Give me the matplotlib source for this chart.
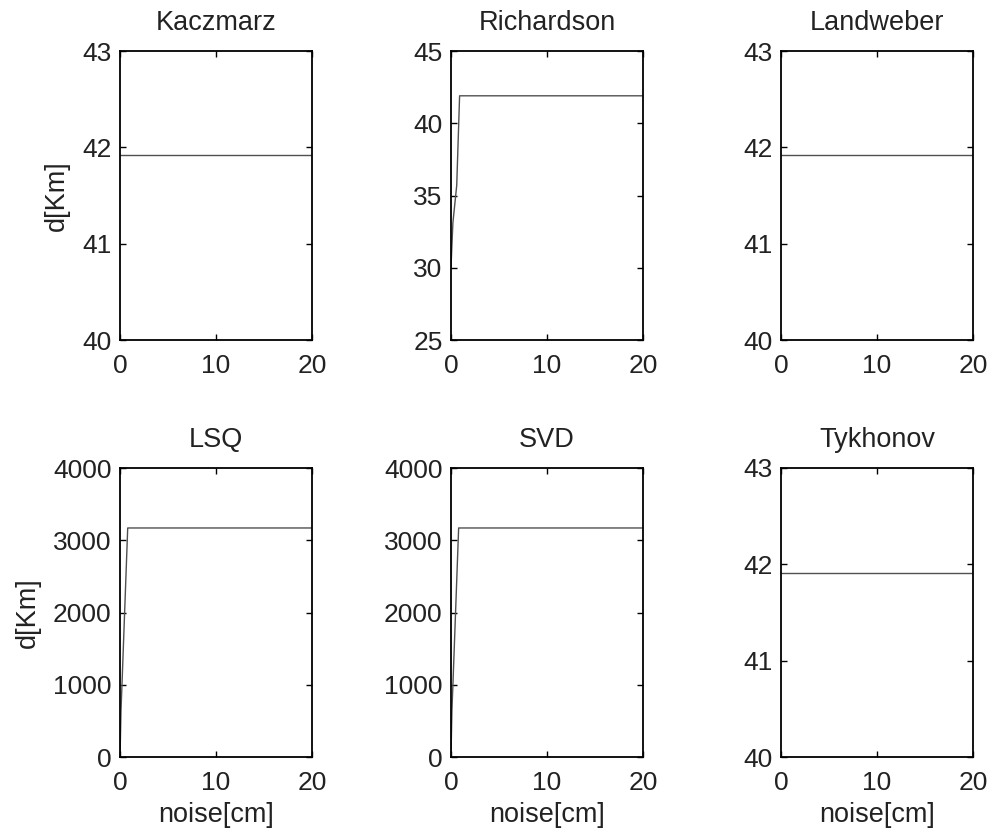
import matplotlib
matplotlib.use("Agg")
import matplotlib.pyplot as plt

plt.rcParams['font.family'] = ['Liberation Sans', 'DejaVu Sans']
plt.rcParams['font.size'] = 19.5
plt.rcParams['text.color'] = '#222222'
plt.rcParams['axes.labelcolor'] = '#222222'
plt.rcParams['xtick.labelcolor'] = '#222222'
plt.rcParams['ytick.labelcolor'] = '#222222'

# noise [cm] vs. depth d [Km]
flat_x = [0, 20]
kacz_y = [41.92, 41.92]
land_y = [41.92, 41.92]
tykh_y = [41.91, 41.91]

rich_x = [0, 0.2, 0.6, 0.9, 20]
rich_y = [30, 33.1, 35.7, 41.9, 41.9]

lsq_x = [0, 0.1, 0.2, 0.8, 20]
lsq_y = [0, 640, 990, 3170, 3170]
svd_x = [0, 0.1, 0.2, 0.8, 20]
svd_y = [0, 640, 990, 3170, 3170]

panels = [
    ("Kaczmarz", flat_x, kacz_y, (40, 43), [40, 41, 42, 43]),
    ("Richardson", rich_x, rich_y, (25, 45), [25, 30, 35, 40, 45]),
    ("Landweber", flat_x, land_y, (40, 43), [40, 41, 42, 43]),
    ("LSQ", lsq_x, lsq_y, (0, 4000), [0, 1000, 2000, 3000, 4000]),
    ("SVD", svd_x, svd_y, (0, 4000), [0, 1000, 2000, 3000, 4000]),
    ("Tykhonov", flat_x, tykh_y, (40, 43), [40, 41, 42, 43]),
]

fig = plt.figure(figsize=(9.92, 8.32), dpi=100)
lefts = [0.121, 0.4546, 0.7873]
bottoms = [0.5913, 0.0901]
w, h = 0.1935, 0.3474

for i, (title, x, y, ylim, yticks) in enumerate(panels):
    r, c = divmod(i, 3)
    ax = fig.add_axes([lefts[c], bottoms[r], w, h])
    ax.plot(x, y, color='#505050', linewidth=1.0)
    ax.set_xlim(0, 20)
    ax.set_ylim(*ylim)
    ax.set_xticks([0, 10, 20])
    ax.set_yticks(yticks)
    ax.set_title(title, fontsize=19.5, pad=15)
    ax.tick_params(direction='in', top=True, right=True, length=4,
                   width=1, labelsize=19)
    ax.tick_params(axis='x', pad=10)
    ax.tick_params(axis='y', pad=6)
    for s in ax.spines.values():
        s.set_linewidth(1.3)
    if c == 0:
        ax.set_ylabel("d[Km]", labelpad=9)
    if r == 1:
        ax.set_xlabel("noise[cm]", labelpad=5)

fig.savefig("out.png", dpi=100)
